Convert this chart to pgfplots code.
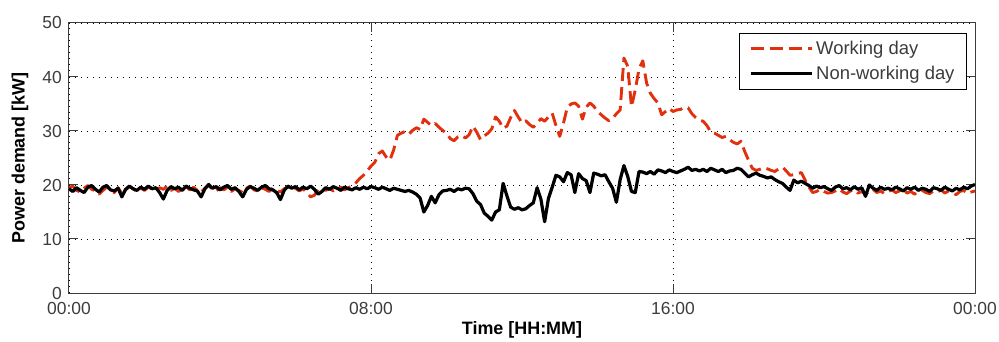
\documentclass[border=0pt]{standalone}
\usepackage{fontspec}
\setmainfont{Liberation Sans}
\usepackage{pgfplots}
\pgfplotsset{compat=1.18}
\definecolor{wred}{RGB}{225,48,14}
\definecolor{axgray}{RGB}{60,60,60}
\begin{document}
\begin{tikzpicture}
\begin{axis}[
  scale only axis,
  width=906bp, height=270bp,
  xmin=0, xmax=24, ymin=0, ymax=50,
  xtick={0,8,16,24},
  xticklabels={00:00,08:00,16:00,00:00},
  ytick={0,10,20,30,40,50},
  /pgf/number format/assume math mode=true,
  tick align=inside,
  major tick length=9bp,
  axis line style={draw=axgray, line width=1bp},
  tick style={draw=axgray, line width=1bp},
  grid=major,
  major grid style={draw=black, line width=0.9bp, dash pattern=on 0.9bp off 5.1bp},
  ticklabel style={font=\fontsize{17.5}{19}\selectfont, text=axgray},
  yticklabel style={inner sep=0pt, anchor=east, xshift=-7bp},
  xticklabel style={inner sep=0pt, anchor=north, yshift=-9.5bp},
  every axis y label/.style={at={(axis description cs:-0.0541,0.5)}, rotate=90, anchor=center, font=\fontsize{18}{20}\selectfont\bfseries},
  every axis x label/.style={at={(axis description cs:0.5,-0.137)}, anchor=center, font=\fontsize{18}{20}\selectfont\bfseries},
  xlabel={Time [HH:MM]},
  ylabel={Power demand [kW]},
  legend style={at={(rel axis cs:1,1)}, anchor=north east, xshift=-8bp, yshift=-10bp,
    draw=black, line width=1bp, font=\fontsize{18.5}{20}\selectfont, text=axgray,
    inner xsep=10bp, inner ysep=6bp, row sep=6bp, column sep=1bp,
    nodes={inner sep=2bp}},
  legend cell align=left,
  legend image code/.code={\draw[#1] (0bp,0bp) -- (61bp,0bp);},
]
\addplot[wred, line width=2.9bp, dash pattern=on 13bp off 6bp, line join=round] coordinates {
(0.0,19.5)(0.1,19.8)(0.2,19.0)(0.3,18.7)(0.4,19.4)(0.5,19.9)(0.6,19.2)(0.7,18.9)(0.8,18.3)(0.9,19.0)
(1.0,19.6)(1.1,19.2)(1.2,18.6)(1.3,19.5)(1.4,18.4)(1.5,19.1)(1.6,19.7)(1.7,19.3)(1.8,18.8)(1.9,19.4)
(2.0,19.0)(2.1,19.6)(2.2,19.3)(2.3,18.9)(2.4,19.5)(2.5,19.2)(2.6,19.8)(2.7,19.0)(2.8,19.4)(2.9,18.8)
(3.0,19.3)(3.1,19.7)(3.2,19.1)(3.3,19.6)(3.4,19.0)(3.5,18.7)(3.6,19.4)(3.7,19.9)(3.8,19.2)(3.9,18.9)
(4.0,19.5)(4.1,19.1)(4.2,19.6)(4.3,18.8)(4.4,19.3)(4.5,19.0)(4.6,18.6)(4.7,19.4)(4.8,19.8)(4.9,19.1)
(5.0,18.9)(5.1,19.5)(5.2,19.2)(5.3,18.8)(5.4,19.4)(5.5,19.0)(5.6,18.7)(5.7,19.3)(5.8,19.6)(5.9,19.1)
(6.0,19.4)(6.1,18.9)(6.2,19.3)(6.3,18.6)(6.4,17.8)(6.5,18.1)(6.6,19.2)(6.7,19.5)(6.8,19.0)(6.9,19.4)
(7.0,18.9)(7.1,19.3)(7.2,19.6)(7.3,19.1)(7.4,19.5)(7.5,19.8)(7.6,20.4)(7.7,21.2)(7.8,21.8)(7.9,22.6)
(8.0,23.5)(8.1,24.2)(8.2,25.8)(8.3,26.3)(8.4,25.2)(8.5,24.6)(8.6,26.5)(8.7,29.2)(8.8,29.6)(8.9,29.9)
(9.0,29.4)(9.1,30.1)(9.2,30.6)(9.3,30.3)(9.4,32.2)(9.5,31.6)(9.6,31.0)(9.7,31.4)(9.8,30.7)(9.9,30.1)
(10.0,29.6)(10.1,28.6)(10.2,28.2)(10.3,28.9)(10.4,29.2)(10.5,28.7)(10.6,29.3)(10.7,30.9)(10.8,29.8)(10.9,28.4)
(11.0,29.1)(11.1,29.6)(11.2,30.4)(11.3,32.6)(11.4,31.8)(11.5,30.5)(11.6,30.9)(11.7,32.5)(11.8,33.8)(11.9,32.6)
(12.0,31.5)(12.1,31.9)(12.2,31.2)(12.3,30.7)(12.4,31.4)(12.5,32.3)(12.6,31.8)(12.7,32.6)(12.8,33.3)(12.9,31.0)
(13.0,29.0)(13.1,31.5)(13.2,34.4)(13.3,35.0)(13.4,35.2)(13.5,34.6)(13.6,32.2)(13.7,34.4)(13.8,35.2)(13.9,34.6)
(14.0,33.6)(14.1,33.0)(14.2,32.4)(14.3,31.9)(14.4,32.3)(14.5,33.2)(14.6,33.9)(14.7,43.5)(14.8,42.0)(14.9,34.5)
(15.0,37.6)(15.1,41.5)(15.2,43.0)(15.3,38.9)(15.4,37.0)(15.5,36.0)(15.6,35.2)(15.7,33.0)(15.8,33.6)(15.9,34.2)
(16.0,33.6)(16.1,33.9)(16.2,34.0)(16.3,34.4)(16.4,34.3)(16.5,33.2)(16.6,32.5)(16.7,32.0)(16.8,31.8)(16.9,31.0)
(17.0,29.8)(17.1,29.6)(17.2,29.2)(17.3,28.8)(17.4,29.0)(17.5,28.4)(17.6,27.9)(17.7,27.6)(17.8,28.1)(17.9,26.2)
(18.0,24.6)(18.1,23.1)(18.2,22.7)(18.3,22.9)(18.4,23.2)(18.5,23.0)(18.6,22.7)(18.7,22.5)(18.8,23.0)(18.9,23.3)
(19.0,22.6)(19.1,21.8)(19.2,21.9)(19.3,22.1)(19.4,22.3)(19.5,20.9)(19.6,19.6)(19.7,18.6)(19.8,18.8)(19.9,19.2)
(20.0,18.8)(20.1,18.5)(20.2,18.6)(20.3,18.9)(20.4,19.3)(20.5,18.7)(20.6,18.4)(20.7,18.9)(20.8,19.1)(20.9,18.5)
(21.0,18.8)(21.1,18.3)(21.2,18.9)(21.3,19.2)(21.4,18.6)(21.5,18.9)(21.6,18.4)(21.7,18.8)(21.8,19.1)(21.9,18.6)
(22.0,18.9)(22.1,19.2)(22.2,18.5)(22.3,18.8)(22.4,18.3)(22.5,18.9)(22.6,19.0)(22.7,18.6)(22.8,18.4)(22.9,18.9)
(23.0,18.7)(23.1,19.1)(23.2,18.5)(23.3,18.9)(23.4,18.6)(23.5,18.2)(23.6,18.8)(23.7,19.0)(23.8,18.4)(23.9,18.7)
(24.0,18.9)
};
\addlegendentry{Working day}
\addplot[black, line width=3.2bp, line join=round] coordinates {
(0.0,19.3)(0.1,18.8)(0.2,19.5)(0.3,19.0)(0.4,18.6)(0.5,19.6)(0.6,19.9)(0.7,19.2)(0.8,18.7)(0.9,19.6)
(1.0,19.9)(1.1,19.1)(1.2,18.9)(1.3,19.4)(1.4,17.8)(1.5,19.2)(1.6,19.8)(1.7,19.3)(1.8,19.0)(1.9,19.6)
(2.0,19.2)(2.1,19.8)(2.2,19.3)(2.3,19.5)(2.4,18.6)(2.5,17.4)(2.6,19.0)(2.7,19.7)(2.8,19.3)(2.9,19.6)
(3.0,19.0)(3.1,19.8)(3.2,19.4)(3.3,19.1)(3.4,18.9)(3.5,17.8)(3.6,19.3)(3.7,20.1)(3.8,19.4)(3.9,19.7)
(4.0,19.1)(4.1,19.6)(4.2,19.9)(4.3,19.2)(4.4,19.5)(4.5,18.8)(4.6,17.8)(4.7,19.2)(4.8,19.7)(4.9,19.4)
(5.0,19.0)(5.1,19.6)(5.2,19.9)(5.3,19.3)(5.4,19.1)(5.5,18.6)(5.6,17.3)(5.7,19.0)(5.8,19.8)(5.9,19.4)
(6.0,19.7)(6.1,19.1)(6.2,19.6)(6.3,19.3)(6.4,19.8)(6.5,19.2)(6.6,18.3)(6.7,18.8)(6.8,19.5)(6.9,19.2)
(7.0,19.7)(7.1,19.4)(7.2,19.0)(7.3,19.6)(7.4,19.3)(7.5,19.1)(7.6,19.5)(7.7,19.2)(7.8,19.6)(7.9,19.3)
(8.0,19.7)(8.1,19.5)(8.2,19.2)(8.3,19.6)(8.4,19.3)(8.5,19.0)(8.6,19.4)(8.7,19.2)(8.8,19.0)(8.9,18.8)
(9.0,19.0)(9.1,18.7)(9.2,18.3)(9.3,17.6)(9.4,15.0)(9.5,16.2)(9.6,17.9)(9.7,16.7)(9.8,18.2)(9.9,18.9)
(10.0,19.0)(10.1,19.2)(10.2,18.8)(10.3,19.3)(10.4,19.1)(10.5,19.4)(10.6,19.3)(10.7,18.4)(10.8,17.0)(10.9,16.4)
(11.0,14.8)(11.1,14.2)(11.2,13.5)(11.3,15.0)(11.4,15.4)(11.5,20.3)(11.6,18.0)(11.7,15.9)(11.8,15.5)(11.9,15.8)
(12.0,15.4)(12.1,15.6)(12.2,16.2)(12.3,16.7)(12.4,19.5)(12.5,17.4)(12.6,13.2)(12.7,17.5)(12.8,19.6)(12.9,21.8)
(13.0,21.5)(13.1,20.6)(13.2,22.3)(13.3,21.9)(13.4,18.6)(13.5,22.1)(13.6,21.2)(13.7,20.8)(13.8,18.6)(13.9,22.2)
(14.0,22.0)(14.1,21.7)(14.2,21.9)(14.3,20.6)(14.4,19.4)(14.5,16.8)(14.6,21.0)(14.7,23.6)(14.8,21.6)(14.9,18.8)
(15.0,18.6)(15.1,22.5)(15.2,22.4)(15.3,22.1)(15.4,22.5)(15.5,22.0)(15.6,22.8)(15.7,22.6)(15.8,22.3)(15.9,22.8)
(16.0,22.5)(16.1,22.3)(16.2,22.6)(16.3,22.9)(16.4,23.3)(16.5,22.7)(16.6,22.9)(16.7,22.6)(16.8,22.9)(16.9,22.5)
(17.0,23.1)(17.1,22.8)(17.2,22.5)(17.3,22.9)(17.4,22.3)(17.5,22.6)(17.6,22.7)(17.7,23.1)(17.8,22.9)(17.9,22.2)
(18.0,21.5)(18.1,21.9)(18.2,22.2)(18.3,21.8)(18.4,21.6)(18.5,21.3)(18.6,21.5)(18.7,21.0)(18.8,20.6)(18.9,20.3)
(19.0,19.6)(19.1,19.0)(19.2,20.9)(19.3,20.4)(19.4,20.7)(19.5,20.3)(19.6,19.9)(19.7,19.4)(19.8,19.8)(19.9,19.5)
(20.0,19.7)(20.1,19.3)(20.2,19.0)(20.3,19.6)(20.4,19.9)(20.5,19.3)(20.6,19.5)(20.7,19.1)(20.8,19.7)(20.9,19.2)
(21.0,19.5)(21.1,17.9)(21.2,20.0)(21.3,19.4)(21.4,19.0)(21.5,19.6)(21.6,19.2)(21.7,19.4)(21.8,19.1)(21.9,19.6)
(22.0,19.3)(22.1,18.9)(22.2,19.5)(22.3,19.2)(22.4,19.6)(22.5,19.0)(22.6,19.4)(22.7,19.2)(22.8,18.8)(22.9,19.5)
(23.0,19.3)(23.1,19.0)(23.2,19.6)(23.3,19.2)(23.4,18.9)(23.5,19.4)(23.6,19.1)(23.7,19.6)(23.8,19.3)(23.9,19.8)
(24.0,20.1)
};
\addlegendentry{Non-working day}
\end{axis}
\pgfresetboundingbox
\path[use as bounding box] ([shift={(-69bp,-49bp)}]current axis.south west) rectangle ([shift={(24bp,23bp)}]current axis.north east);
\end{tikzpicture}
\end{document}
